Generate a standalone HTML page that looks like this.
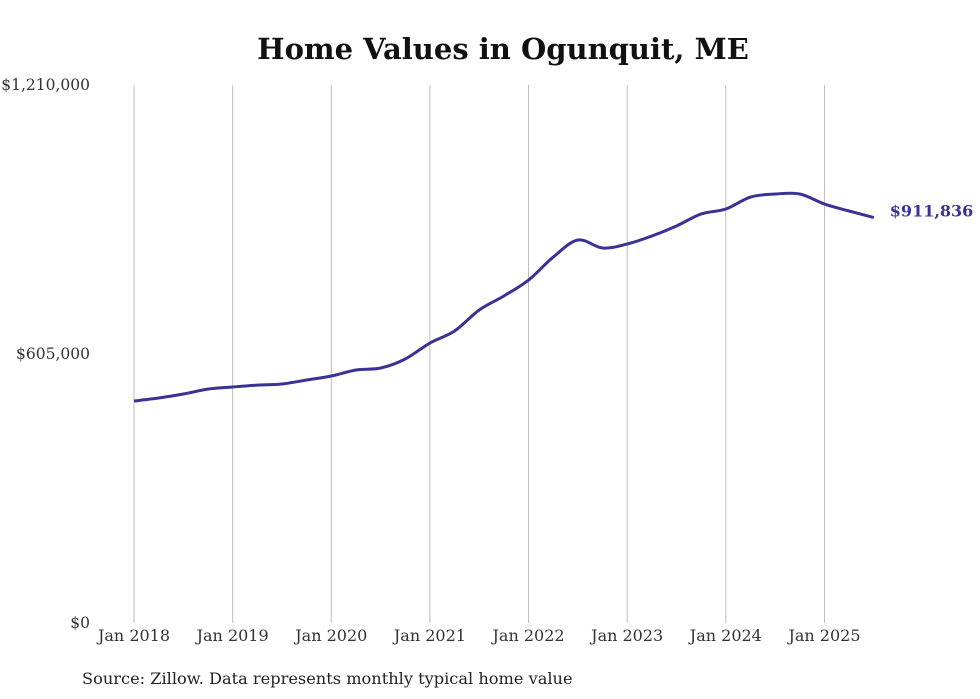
<!DOCTYPE html>
<html><head><meta charset="utf-8"><style>
body{margin:0;background:#fff;}
svg{display:block;font-family:"DejaVu Serif","Liberation Serif",serif;}
</style></head><body>
<svg id="chart" width="980" height="699" viewBox="0 0 980 699">
<text x="503" y="59" text-anchor="middle" font-size="29" font-weight="bold" fill="#111">Home Values in Ogunquit, ME</text>
<g id="grid"></g><g id="yaxis"></g><g id="xaxis"></g><g id="series"></g>
<text x="82" y="684" font-size="16.2" fill="#222">Source: Zillow. Data represents monthly typical home value</text>
</svg>
<script>
const yTicks=[0,605000,1210000];
const yTickLabels=["$0","$605,000","$1,210,000"];
const xTickYears=[2018,2019,2020,2021,2022,2023,2024,2025];
const xTickLabels=["Jan 2018","Jan 2019","Jan 2020","Jan 2021","Jan 2022","Jan 2023","Jan 2024","Jan 2025"];
const dates=["2018-01","2018-04","2018-07","2018-10","2019-01","2019-04","2019-07","2019-10","2020-01","2020-04","2020-07","2020-10","2021-01","2021-04","2021-07","2021-10","2022-01","2022-04","2022-07","2022-10","2023-01","2023-04","2023-07","2023-10","2024-01","2024-04","2024-07","2024-10","2025-01","2025-04","2025-07"];
const values=[499300,506000,515000,526000,530800,535000,537500,546500,555500,569000,573500,593800,629700,656700,704000,735500,771400,823000,861400,843400,852400,870400,893000,920000,931100,958000,964800,964800,942300,926600,911836];
const lastLabel="$911,836";
const NS="http://www.w3.org/2000/svg";
const x0=134,pxPerMonth=8.22,yBase=623,yTop=85,yMax=1210000;
function monthIndex(d){const[a,b]=d.split("-").map(Number);return (a-2018)*12+(b-1);}
function xs(m){return x0+m*pxPerMonth;}
function ys(v){return yBase-(v/yMax)*(yBase-yTop);}
function mk(tag,attrs,parent){const e=document.createElementNS(NS,tag);for(const k in attrs)e.setAttribute(k,attrs[k]);parent.appendChild(e);return e;}
const grid=document.getElementById("grid"),xa=document.getElementById("xaxis"),ya=document.getElementById("yaxis"),se=document.getElementById("series");
xTickYears.forEach((yr,i)=>{const x=xs((yr-2018)*12);
const l=mk("line",{x1:x,x2:x,y1:yTop,y2:yBase,stroke:"#bdbdbd","stroke-width":1},grid);


const t=mk("text",{x:x,y:641,"text-anchor":"middle","font-size":16,fill:"#333"},xa);t.textContent=xTickLabels[i];

});
yTicks.forEach((v,i)=>{const t=mk("text",{x:90,y:ys(v)+5,"text-anchor":"end","font-size":15.5,fill:"#333"},ya);t.textContent=yTickLabels[i];

});
const pts=dates.map((d,i)=>[xs(monthIndex(d)),ys(values[i])]);
let d="M"+pts[0][0]+","+pts[0][1];
for(let i=0;i<pts.length-1;i++){const p0=pts[Math.max(0,i-1)],p1=pts[i],p2=pts[i+1],p3=pts[Math.min(pts.length-1,i+2)];
const c1=[p1[0]+(p2[0]-p0[0])/6,p1[1]+(p2[1]-p0[1])/6],c2=[p2[0]-(p3[0]-p1[0])/6,p2[1]-(p3[1]-p1[1])/6];
d+=` C${c1[0]},${c1[1]} ${c2[0]},${c2[1]} ${p2[0]},${p2[1]}`;}
const path=mk("path",{d:d,fill:"none",stroke:"#3a3296","stroke-width":3,"stroke-linejoin":"round"},se);


const lp=pts[pts.length-1];
const lt=mk("text",{x:lp[0]+16,y:lp[1]-1,"font-size":16,"font-weight":"bold",fill:"#3a3296"},se);lt.textContent=lastLabel;


</script>
</body></html>
